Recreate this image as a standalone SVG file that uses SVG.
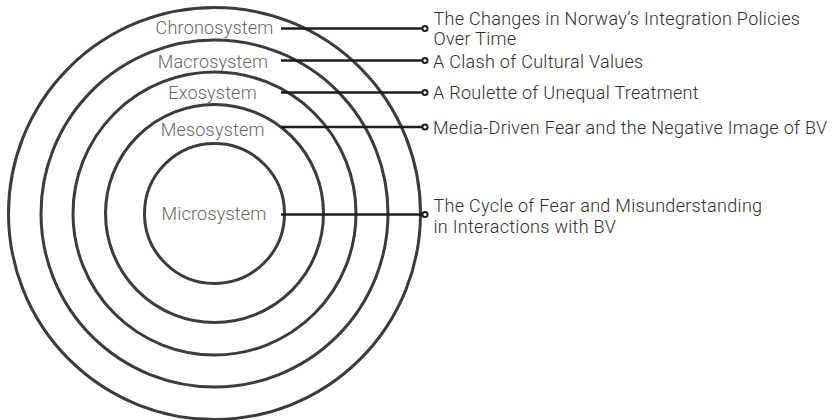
<svg xmlns="http://www.w3.org/2000/svg" width="835" height="420" viewBox="0 0 835 420">
  <style>
    .ring { fill: none; stroke: #3d3b3b; stroke-width: 3; }
    .label { font-family: Roboto, "Liberation Sans", sans-serif; font-size: 18px; font-weight: 300; letter-spacing: 0.2px; fill: #666666; text-anchor: middle; }
    .note { font-family: Roboto, "Liberation Sans", sans-serif; font-size: 18px; font-weight: 300; letter-spacing: 0.3px; fill: #2e2e2e; }
    .link { stroke: #1c1c1c; stroke-width: 2.6; fill: none; }
    .end { fill: #ffffff; stroke: #1c1c1c; stroke-width: 2; }
  </style>
  <rect width="835" height="420" fill="#ffffff"/>

  <!-- nested system rings -->
  <g id="chronosystem">
    <circle class="ring" cx="214.5" cy="213.5" r="206"/>
    <text class="label" x="214.5" y="34">Chronosystem</text>
  </g>
  <g id="macrosystem">
    <circle class="ring" cx="214.5" cy="213.5" r="173.5"/>
    <text class="label" x="213" y="67.5">Macrosystem</text>
  </g>
  <g id="exosystem">
    <circle class="ring" cx="214.5" cy="213.5" r="141.5"/>
    <text class="label" x="212.5" y="98.5">Exosystem</text>
  </g>
  <g id="mesosystem">
    <circle class="ring" cx="214.5" cy="213.5" r="109"/>
    <text class="label" x="212.7" y="136">Mesosystem</text>
  </g>
  <g id="microsystem">
    <circle class="ring" cx="214.5" cy="213.5" r="70" stroke-width="2.6"/>
    <text class="label" x="214" y="220">Microsystem</text>
  </g>

  <!-- leader lines -->
  <g id="connectors">
    <line class="link" x1="281" y1="28.5" x2="425" y2="28.5"/>
    <line class="link" x1="281" y1="60.5" x2="425" y2="60.5"/>
    <line class="link" x1="281" y1="92.5" x2="425" y2="92.5"/>
    <line class="link" x1="281" y1="127" x2="425" y2="127"/>
    <line class="link" x1="281" y1="214.5" x2="425" y2="214.5"/>
    <circle class="end" cx="425" cy="28.5" r="2.6"/>
    <circle class="end" cx="425" cy="60.5" r="2.6"/>
    <circle class="end" cx="425" cy="92.5" r="2.6"/>
    <circle class="end" cx="425" cy="127" r="2.6"/>
    <circle class="end" cx="425" cy="214.5" r="2.6"/>
  </g>

  <!-- themes -->
  <g id="theme-chrono">
    <text class="note" x="433.5" y="24.5">The Changes in Norway’s Integration Policies</text>
    <text class="note" x="433.5" y="45">Over Time</text>
  </g>
  <g id="theme-macro">
    <text class="note" x="433" y="67.5">A Clash of Cultural Values</text>
  </g>
  <g id="theme-exo">
    <text class="note" x="433" y="99">A Roulette of Unequal Treatment</text>
  </g>
  <g id="theme-meso">
    <text class="note" x="433" y="134">Media-Driven Fear and the Negative Image of BV</text>
  </g>
  <g id="theme-micro">
    <text class="note" x="433.5" y="212">The Cycle of Fear and Misunderstanding</text>
    <text class="note" x="433.5" y="233">in Interactions with BV</text>
  </g>
</svg>
